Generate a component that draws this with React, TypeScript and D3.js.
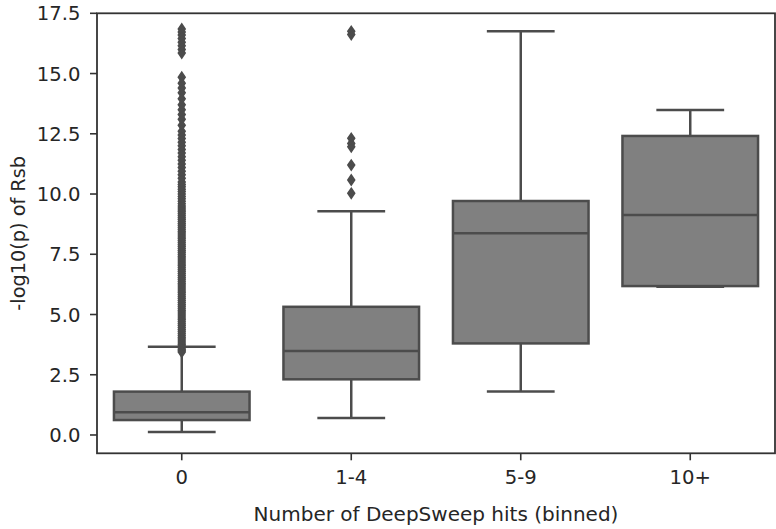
import React from "react";
import * as d3 from "d3";

const categories = ["0", "1-4", "5-9", "10+"];
const whiskerLow = [0.12, 0.71, 1.8, 6.15];
const q1 = [0.62, 2.31, 3.8, 6.18];
const median = [0.94, 3.49, 8.37, 9.13];
const q3 = [1.8, 5.32, 9.71, 12.41];
const whiskerHigh = [3.66, 9.29, 16.76, 13.49];

const outliers0 = [
  16.85, 16.72, 16.6, 16.45, 16.3, 16.15, 16.0, 15.85,
  14.85, 14.6, 14.4, 14.2, 13.95, 13.7, 13.5, 13.3, 13.1, 12.85, 12.6, 12.45,
  12.3, 12.15, 12.0, 11.85, 11.7, 11.55, 11.4, 11.25, 11.1, 10.95, 10.8, 10.65,
  10.5, 10.4, 10.3, 10.2, 10.1, 10.0, 9.9, 9.8, 9.7, 9.6, 9.5, 9.42, 9.34, 9.26,
  9.18, 9.1, 9.02, 8.94, 8.86, 8.78, 8.7, 8.62, 8.54, 8.46, 8.38, 8.3, 8.22,
  8.14, 8.06, 7.98, 7.9, 7.82, 7.74, 7.66, 7.58, 7.5, 7.42, 7.34, 7.26, 7.18,
  7.1, 7.02, 6.94, 6.86, 6.78, 6.7, 6.62, 6.54, 6.46, 6.38, 6.3, 6.22, 6.14,
  6.06, 5.98, 5.9, 5.82, 5.74, 5.66, 5.58, 5.5, 5.42, 5.34, 5.26, 5.18, 5.1,
  5.02, 4.94, 4.86, 4.78, 4.7, 4.62, 4.54, 4.46, 4.38, 4.3, 4.22, 4.14, 4.06,
  3.98, 3.9, 3.82, 3.74, 3.68, 3.62, 3.56, 3.5, 3.44,
];
const outliers1 = [16.75, 16.62, 12.31, 12.1, 11.96, 11.2, 10.58, 10.03];
const outliers2: number[] = [];
const outliers3: number[] = [];
const outliers = [outliers0, outliers1, outliers2, outliers3];

const yTicks = [0, 2.5, 5, 7.5, 10, 12.5, 15, 17.5];

const W = 776;
const H = 529;
const left = 97;
const right = 775;
const top = 13.3;
const bottom = 453.3;
const font = "DejaVu Sans, sans-serif";
const textColor = "#262626";
const lineColor = "#4c4c4c";
const fillColor = "#808080";
const lw = 2.5;

export default function App() {
  const x = d3.scaleBand<string>().domain(categories).range([left, right]).padding(0);
  const y = d3.scaleLinear().domain([-0.76, 17.5]).range([bottom, top]);
  const bw = x.bandwidth() * 0.8;
  const capW = bw / 2;

  return (
    <svg
      width={W}
      height={H}
      style={{ position: "absolute", left: 0, top: 0, background: "#fff" }}
      fontFamily={font}
    >
      <rect x={0} y={0} width={W} height={H} fill="#fff" />
      {categories.map((c, i) => {
        const cx = x(c)! + x.bandwidth() / 2;
        return (
          <g key={c}>
            <line x1={cx} x2={cx} y1={y(q1[i])} y2={y(whiskerLow[i])} stroke={lineColor} strokeWidth={lw} />
            <line x1={cx} x2={cx} y1={y(q3[i])} y2={y(whiskerHigh[i])} stroke={lineColor} strokeWidth={lw} />
            <line x1={cx - capW / 2} x2={cx + capW / 2} y1={y(whiskerLow[i])} y2={y(whiskerLow[i])} stroke={lineColor} strokeWidth={lw} />
            <line x1={cx - capW / 2} x2={cx + capW / 2} y1={y(whiskerHigh[i])} y2={y(whiskerHigh[i])} stroke={lineColor} strokeWidth={lw} />
            <rect
              x={cx - bw / 2}
              y={y(q3[i])}
              width={bw}
              height={y(q1[i]) - y(q3[i])}
              fill={fillColor}
              stroke={lineColor}
              strokeWidth={lw}
            />
            <line x1={cx - bw / 2} x2={cx + bw / 2} y1={y(median[i])} y2={y(median[i])} stroke={lineColor} strokeWidth={lw} />
            {outliers[i].map((v, j) => {
              const py = y(v);
              return (
                <path
                  key={j}
                  d={`M${cx},${py - 5}L${cx + 3.4},${py}L${cx},${py + 5}L${cx - 3.4},${py}Z`}
                  fill={lineColor}
                  stroke={lineColor}
                  strokeWidth={1.6}
                />
              );
            })}
          </g>
        );
      })}
      {/* spines */}
      <rect x={left} y={top} width={right - left} height={bottom - top} fill="none" stroke="#333" strokeWidth={1.8} />
      {/* y ticks */}
      {yTicks.map((t) => (
        <g key={t}>
          <line x1={left - 7} x2={left} y1={y(t)} y2={y(t)} stroke="#333" strokeWidth={1.6} />
          <text x={left - 16.5} y={y(t)} dy="0.36em" textAnchor="end" fontSize={19.6} fill={textColor}>
            {t.toFixed(1)}
          </text>
        </g>
      ))}
      {/* x ticks */}
      {categories.map((c) => {
        const cx = x(c)! + x.bandwidth() / 2;
        return (
          <g key={c}>
            <line x1={cx} x2={cx} y1={bottom} y2={bottom + 7} stroke="#333" strokeWidth={1.6} />
            <text x={cx} y={484} textAnchor="middle" fontSize={19.6} fill={textColor}>
              {c}
            </text>
          </g>
        );
      })}
      <text x={(left + right) / 2} y={521} textAnchor="middle" fontSize={20} fill={textColor}>
        Number of DeepSweep hits (binned)
      </text>
      <text
        transform={`translate(25,${(top + bottom) / 2}) rotate(-90)`}
        textAnchor="middle"
        fontSize={19.3}
        fill={textColor}
      >
        -log10(p) of Rsb
      </text>
    </svg>
  );
}
